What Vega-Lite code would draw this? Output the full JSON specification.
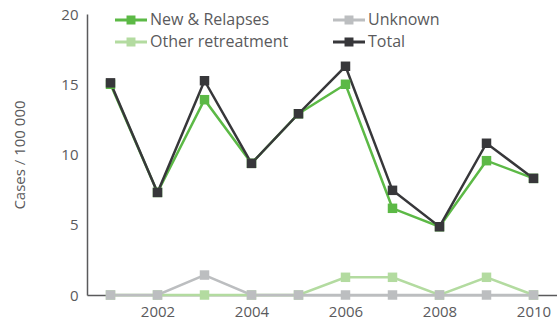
{
  "$schema": "https://vega.github.io/schema/vega-lite/v6.json",
  "width": 470,
  "height": 281,
  "autosize": {"type": "none"},
  "padding": {"left": 87, "top": 14, "right": 0, "bottom": 29},
  "background": "white",
  "config": {
    "view": {"stroke": null},
    "font": "Open Sans",
    "axis": {"grid": false, "domainColor": "#5a5a5c", "tickColor": "#5a5a5c", "domainWidth": 1.5, "tickWidth": 1.2, "labelColor": "#5a5a5c", "labelFont": "Open Sans", "labelFontSize": 15, "titleColor": "#5a5a5c", "titleFont": "Open Sans", "titleFontWeight": "normal"}
  },
  "data": {
    "values": [
      {"year": "2001", "series": "Other retreatment", "value": 0},
      {"year": "2002", "series": "Other retreatment", "value": 0},
      {"year": "2003", "series": "Other retreatment", "value": 0},
      {"year": "2004", "series": "Other retreatment", "value": 0},
      {"year": "2005", "series": "Other retreatment", "value": 0},
      {"year": "2006", "series": "Other retreatment", "value": 1.26},
      {"year": "2007", "series": "Other retreatment", "value": 1.26},
      {"year": "2008", "series": "Other retreatment", "value": 0},
      {"year": "2009", "series": "Other retreatment", "value": 1.26},
      {"year": "2010", "series": "Other retreatment", "value": 0},
      {"year": "2001", "series": "Unknown", "value": 0},
      {"year": "2002", "series": "Unknown", "value": 0},
      {"year": "2003", "series": "Unknown", "value": 1.42},
      {"year": "2004", "series": "Unknown", "value": 0},
      {"year": "2005", "series": "Unknown", "value": 0},
      {"year": "2006", "series": "Unknown", "value": 0},
      {"year": "2007", "series": "Unknown", "value": 0},
      {"year": "2008", "series": "Unknown", "value": 0},
      {"year": "2009", "series": "Unknown", "value": 0},
      {"year": "2010", "series": "Unknown", "value": 0},
      {"year": "2001", "series": "New & Relapses", "value": 15.0},
      {"year": "2002", "series": "New & Relapses", "value": 7.3},
      {"year": "2003", "series": "New & Relapses", "value": 13.9},
      {"year": "2004", "series": "New & Relapses", "value": 9.37},
      {"year": "2005", "series": "New & Relapses", "value": 12.9},
      {"year": "2006", "series": "New & Relapses", "value": 15.0},
      {"year": "2007", "series": "New & Relapses", "value": 6.17},
      {"year": "2008", "series": "New & Relapses", "value": 4.86},
      {"year": "2009", "series": "New & Relapses", "value": 9.56},
      {"year": "2010", "series": "New & Relapses", "value": 8.3},
      {"year": "2001", "series": "Total", "value": 15.1},
      {"year": "2002", "series": "Total", "value": 7.3},
      {"year": "2003", "series": "Total", "value": 15.25},
      {"year": "2004", "series": "Total", "value": 9.37},
      {"year": "2005", "series": "Total", "value": 12.9},
      {"year": "2006", "series": "Total", "value": 16.28},
      {"year": "2007", "series": "Total", "value": 7.45},
      {"year": "2008", "series": "Total", "value": 4.86},
      {"year": "2009", "series": "Total", "value": 10.8},
      {"year": "2010", "series": "Total", "value": 8.3}
    ]
  },
  "encoding": {
    "x": {
      "field": "year", "type": "ordinal", "bandPosition": 0.5,
      "scale": {"type": "band", "paddingInner": 0, "paddingOuter": 0},
      "axis": {"title": null, "labelAngle": 0, "tickBand": "extent", "tickSize": 0, "labelPadding": 9,
               "labelExpr": "toNumber(datum.value) % 2 == 0 ? datum.value : ''",
               "encode": {"ticks": {"update": {"y2": {"value": -6}}}}}
    },
    "y": {
      "field": "value", "type": "quantitative",
      "scale": {"domain": [0, 20], "nice": false},
      "axis": {"title": "Cases / 100 000", "values": [0, 5, 10, 15, 20], "tickSize": 0, "labelPadding": 9, "titleFontSize": 15, "titlePadding": 33,
               "encode": {"ticks": {"update": {"x2": {"value": 10}}}}}
    },
    "color": {
      "field": "series", "type": "nominal",
      "scale": {"domain": ["New & Relapses", "Unknown", "Other retreatment", "Total"],
                "range": ["#5cb946", "#bcbec0", "#b3dba0", "#37373a"]},
      "legend": {
        "title": null, "orient": "none", "legendX": 28, "legendY": -5, "columns": 2, "direction": "horizontal",
        "symbolType": "M-1,-0.09H1V0.09H-1Z M-0.28,-0.28H0.28V0.28H-0.28Z",
        "symbolSize": 1024, "symbolStrokeWidth": 0, "labelFontSize": 16, "labelColor": "#5a5a5c", "labelFont": "Open Sans",
        "columnPadding": 44, "rowPadding": 0, "clipHeight": 22, "labelOffset": 3
      }
    }
  },
  "layer": [
    {"mark": {"type": "line", "strokeWidth": 2.5}},
    {"mark": {"type": "point", "shape": "square", "filled": true, "size": 90, "opacity": 1}}
  ]
}
